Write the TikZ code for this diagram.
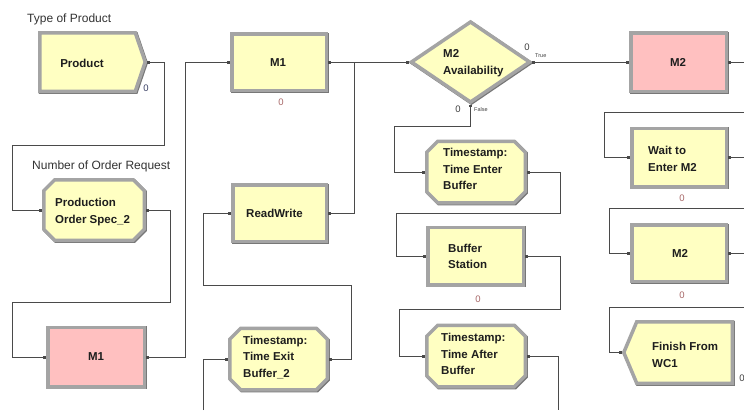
\documentclass[tikz,border=0pt]{standalone}
\usepackage{fontspec}
\setmainfont{Liberation Sans}
\usetikzlibrary{shapes.geometric,arrows.meta}

\definecolor{modyellow}{HTML}{FFFFC2}
\definecolor{modpink}{HTML}{FFC0C0}
\definecolor{framegray}{HTML}{A4A4A4}
\definecolor{frameshade}{HTML}{777777}
\definecolor{wire}{HTML}{4A4A4A}
\definecolor{cntred}{HTML}{A86868}
\definecolor{cntblue}{HTML}{3C4266}
\definecolor{inkdark}{HTML}{1E1E1E}

\tikzset{
  port/.tip={Square[length=2.6pt,width=2.6pt]},
  module/.style={draw=framegray, line width=3.5pt, inner sep=0pt,
    preaction={draw=frameshade, line width=3.5pt,
      transform canvas={shift={(0.9pt,-0.9pt)}}}},
  process/.style={module, rectangle, fill=modyellow},
  hotproc/.style={module, rectangle, fill=modpink},
  decide/.style={module, diamond, fill=modyellow},
  % invisible placeholder whose anchors sit on the outer edge of a drawn frame
  holder/.style={rectangle, inner sep=0pt, outer sep=1.75pt},
  wire/.style={draw=wire, line width=0.8pt},
  mtext/.style={inner sep=0pt, align=left, text=inkdark,
    font=\bfseries\fontsize{11.5}{16.5}\selectfont},
  lab/.style={inner sep=0pt, text=black!80, font=\fontsize{12}{14}\selectfont},
  cnt/.style={inner sep=0pt, text=cntred, font=\fontsize{9.5}{11}\selectfont},
  tinylab/.style={inner sep=0pt, text=black!75, font=\fontsize{5.5}{6}\selectfont},
}

% Create module: box with a point on the right (#1 = holder node)
\newcommand\createframe[1]{%
  \path[module, fill=modyellow]
    ([xshift=1.75pt,yshift=-1.75pt]#1.north west)
    -- ([xshift=-11.75pt,yshift=-1.75pt]#1.north east)
    -- ([xshift=-1.75pt]#1.east)
    -- ([xshift=-11.75pt,yshift=1.75pt]#1.south east)
    -- ([xshift=1.75pt,yshift=1.75pt]#1.south west) -- cycle;}

% Dispose module: box with a point on the left
\newcommand\disposeframe[1]{%
  \path[module, fill=modyellow]
    ([xshift=1.75pt]#1.west)
    -- ([xshift=14.75pt,yshift=-1.75pt]#1.north west)
    -- ([xshift=-1.75pt,yshift=-1.75pt]#1.north east)
    -- ([xshift=-1.75pt,yshift=1.75pt]#1.south east)
    -- ([xshift=14.75pt,yshift=1.75pt]#1.south west) -- cycle;}

% Assign module: octagon with cut corners
\newcommand\assignframe[1]{%
  \path[module, fill=modyellow]
    ([xshift=12.75pt,yshift=-1.75pt]#1.north west)
    -- ([xshift=-12.75pt,yshift=-1.75pt]#1.north east)
    -- ([xshift=-1.75pt,yshift=-12.75pt]#1.north east)
    -- ([xshift=-1.75pt,yshift=12.75pt]#1.south east)
    -- ([xshift=-12.75pt,yshift=1.75pt]#1.south east)
    -- ([xshift=12.75pt,yshift=1.75pt]#1.south west)
    -- ([xshift=1.75pt,yshift=12.75pt]#1.south west)
    -- ([xshift=1.75pt,yshift=-12.75pt]#1.north west) -- cycle;}

\begin{document}
\begin{tikzpicture}[x=1pt,y=-1pt]
\useasboundingbox (0,0) rectangle (744,410);
\fill[white] (0,0) rectangle (744,410);

% modules
\node[holder,  minimum width=105.5pt, minimum height=58.5pt] (product) at (92.5,62) {};
\createframe{product}
\node[holder,  minimum width=100.5pt, minimum height=60.5pt] (pos)     at (94,210) {};
\assignframe{pos}
\node[hotproc, minimum width=96.5pt,  minimum height=59.5pt] (m1p)     at (96,357) {};
\node[process, minimum width=94.5pt,  minimum height=56.5pt] (m1y)     at (279,62) {};
\node[process, minimum width=93.5pt,  minimum height=56.5pt] (rw)      at (279.5,213) {};
\node[holder,  minimum width=97.5pt,  minimum height=61.5pt] (teb2)    at (278.5,359) {};
\assignframe{teb2}
\node[decide,  minimum width=119.5pt, minimum height=81.5pt] (dec)     at (470.5,62) {};
\node[holder,  minimum width=98.5pt,  minimum height=61.5pt] (tenter)  at (476,172) {};
\assignframe{tenter}
\node[process, minimum width=95.5pt,  minimum height=57.5pt] (bs)      at (475.5,256) {};
\node[holder,  minimum width=98.5pt,  minimum height=61.5pt] (tafter)  at (476,356) {};
\assignframe{tafter}
\node[hotproc, minimum width=95.5pt,  minimum height=58.5pt] (m2p)     at (678.5,62) {};
\node[process, minimum width=94.5pt,  minimum height=58.5pt] (wait)    at (679,157.5) {};
\node[process, minimum width=94.5pt,  minimum height=56.5pt] (m2y)     at (679,253) {};
\node[holder,  minimum width=108.5pt, minimum height=61.5pt] (finish)  at (678,352.5) {};
\disposeframe{finish}

% free ends and junctions
\coordinate (edge)      at (744,0);
\coordinate (rwjoin)    at (354,62);
\coordinate (teb2in)    at (203,410);
\coordinate (tafterout) at (558,410);
\coordinate (waitin)    at (744,112);
\coordinate (m2yin)     at (744,208);
\coordinate (finin)     at (744,307);

% connectors
\draw[wire, port-port] (product.east) -| (164,145) -- (12,145) |- (pos.west);
\draw[wire, port-port] (pos.east) -| (170,302) -- (12,302) |- (m1p.west);
\draw[wire, port-port] (m1p.east) -- ++(39,0) |- (m1y.west);
\draw[wire, port-port] (m1y.east) -- (dec.west);
\draw[wire, port-] (rw.east) -| (rwjoin);
\draw[wire, port-port] (teb2.east) -| (351,285) -- (203,285) |- (rw.west);
\draw[wire, -port] (teb2in) |- (teb2.west);
\draw[wire, port-port] (dec.south) |- (394,126) |- (tenter.west);
\draw[wire, port-port] (dec.east) -- (m2p.west);
\draw[wire, port-port] (tenter.east) -| (560,213) -- (396,213) |- (bs.west);
\draw[wire, port-port] (bs.east) -| (560,309) -- (399,309) |- (tafter.west);
\draw[wire, port-] (tafter.east) -| (tafterout);
\draw[wire, port-] (m2p.east) -- (m2p.east -| edge);
\draw[wire, -port] (waitin) -- (604,112) |- (wait.west);
\draw[wire, port-] (wait.east) -- (wait.east -| edge);
\draw[wire, -port] (m2yin) -- (609,208) |- (m2y.west);
\draw[wire, port-] (m2y.east) -- (m2y.east -| edge);
\draw[wire, -port] (finin) -- (609,307) |- (finish.west);

% captions above modules
\node[lab, anchor=west] (lab-type)  at (27,19)  {Type of Product};
\node[lab, anchor=west] (lab-order) at (32,166) {Number of Order Request};

% module names
\node[mtext] (t-product) at (82,63) {Product};
\node[mtext, anchor=west] (t-pos) at (55,212) {Production\\Order Spec\_2};
\node[mtext] (t-m1p) at (96,357) {M1};
\node[mtext] (t-m1y) at (278,63) {M1};
\node[mtext, anchor=west] (t-rw) at (246,213) {ReadWrite};
\node[mtext, anchor=west] (t-teb2) at (243,357.5) {Timestamp:\\Time Exit\\Buffer\_2};
\node[mtext, anchor=west] (t-dec) at (443,63) {M2\\Availability};
\node[mtext, anchor=west] (t-tenter) at (443,169) {Timestamp:\\Time Enter\\Buffer};
\node[mtext, anchor=west] (t-bs) at (448,256.5) {Buffer\\Station};
\node[mtext, anchor=west] (t-tafter) at (441,354) {Timestamp:\\Time After\\Buffer};
\node[mtext] (t-m2p) at (678,62) {M2};
\node[mtext, anchor=west] (t-wait) at (648,159) {Wait to\\Enter M2};
\node[mtext] (t-m2y) at (680,253) {M2};
\node[mtext, anchor=west] (t-finish) at (652,355) {Finish From\\WC1};

% counters
\node[cnt, text=cntblue] (c-product) at (146,88) {0};
\node[cnt] (c-m1y) at (281,102) {0};
\node[cnt, text=black!75] (c-true) at (527,47) {0};
\node[tinylab, anchor=west] (l-true) at (535,56) {True};
\node[cnt, text=black!75] (c-false) at (458,109) {0};
\node[tinylab, anchor=west] (l-false) at (474,110) {False};
\node[cnt] (c-bs) at (478,299) {0};
\node[cnt] (c-wait) at (682,198.5) {0};
\node[cnt] (c-m2y) at (682,295) {0};
\node[cnt, text=black!75] (c-finish) at (742,378) {0};
\end{tikzpicture}
\end{document}
